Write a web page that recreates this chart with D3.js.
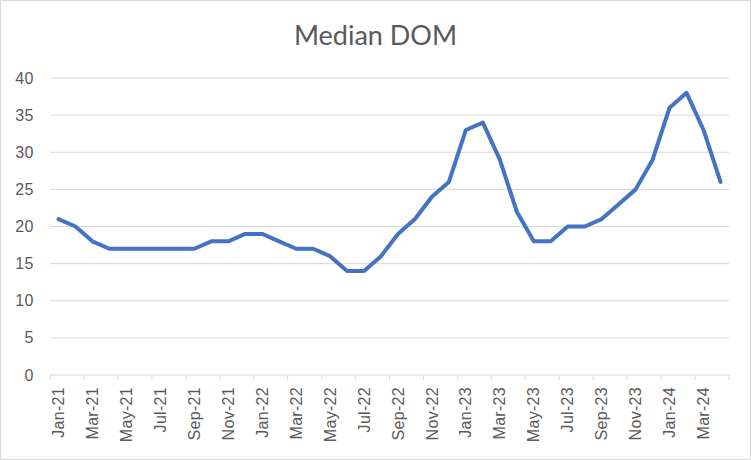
<!DOCTYPE html>
<html>
<head>
<meta charset="utf-8">
<script src="https://cdn.jsdelivr.net/npm/d3@7"></script>
<style>
  body { margin: 0; background: #fff; }
  text { font-family: "Liberation Sans", Arial, sans-serif; fill: #595959; }
  .title { font-family: Lato, "Open Sans", sans-serif; }
</style>
</head>
<body>
<div id="chart"></div>
<script>
var months = ["Jan","Feb","Mar","Apr","May","Jun","Jul","Aug","Sep","Oct","Nov","Dec"]
var years = ["21","22","23","24"]
var categories = []
years.forEach(y => months.forEach(m => categories.push(m + "-" + y)))
categories = categories.slice(0, 40)   // Jan-21 .. Apr-24

var dom = [21,20,18,17,17,17,17,17,17,18,18,19,
           19,18,17,17,16,14,14,16,19,21,24,26,
           33,34,29,22,18,18,20,20,21,23,25,29,
           36,38,33,26]

var yTicks = [0,5,10,15,20,25,30,35,40]

var W = 751, H = 460
var margin = {top: 78, right: 22, bottom: 85, left: 50},
  width = W - margin.left - margin.right,
  height = H - margin.top - margin.bottom

var svg = d3.select("#chart").append("svg")
  .attr("width", W)
  .attr("height", H)

// outer border
svg.append("rect")
  .attr("x", 0.5).attr("y", 0.5)
  .attr("width", W - 1).attr("height", H - 1)
  .attr("fill", "#fff")
  .attr("stroke", "#d9d9d9")

svg.append("text")
  .attr("class", "title")
  .attr("x", W / 2)
  .attr("y", 45)
  .attr("text-anchor", "middle")
  .style("font-size", "27px")
  .text("Median DOM")

var g = svg.append("g")
  .attr("transform", "translate(" + margin.left + "," + margin.top + ")")

var x = d3.scaleBand()
  .domain(categories)
  .range([0, width])
  .padding(0)

var y = d3.scaleLinear()
  .domain([0, 40])
  .range([height, 0])

// gridlines
g.selectAll("line.grid")
  .data(yTicks.filter(d => d > 0))
  .enter().append("line")
  .attr("class", "grid")
  .attr("x1", 0).attr("x2", width)
  .attr("y1", d => y(d)).attr("y2", d => y(d))
  .attr("stroke", "#d9d9d9")
  .attr("stroke-width", 1)

// y labels
g.selectAll("text.ylab")
  .data(yTicks)
  .enter().append("text")
  .attr("class", "ylab")
  .attr("x", -16)
  .attr("y", d => y(d))
  .attr("dy", "0.35em")
  .attr("text-anchor", "end")
  .style("font-size", "16px")
  .style("letter-spacing", "0.5px")
  .text(d => d)

// x axis line and ticks every 2 months
g.append("line")
  .attr("x1", 0).attr("x2", width)
  .attr("y1", height).attr("y2", height)
  .attr("stroke", "#d9d9d9")
  .attr("stroke-width", 1)

var tickCats = categories.filter((d, i) => i % 2 == 0)
var tickPos = tickCats.map(d => x(d)).concat([width])
g.selectAll("line.tick")
  .data(tickPos)
  .enter().append("line")
  .attr("class", "tick")
  .attr("x1", d => d).attr("x2", d => d)
  .attr("y1", height).attr("y2", height + 5)
  .attr("stroke", "#d9d9d9")

g.selectAll("text.xlab")
  .data(tickCats)
  .enter().append("text")
  .attr("class", "xlab")
  .attr("transform", d => "translate(" + (x(d) + x.bandwidth() / 2) + "," + (height + 12) + ") rotate(-90)")
  .attr("dy", "0.35em")
  .attr("text-anchor", "end")
  .style("font-size", "16px")
  .style("letter-spacing", "0.3px")
  .text(d => d)

var line = d3.line()
  .x((d, i) => x(categories[i]) + x.bandwidth() / 2)
  .y(d => y(d))

g.append("path")
  .datum(dom)
  .attr("d", line)
  .attr("fill", "none")
  .attr("stroke", "#4472C4")
  .attr("stroke-width", 4)
  .attr("stroke-linejoin", "round")
  .attr("stroke-linecap", "round")
</script>
</body>
</html>
